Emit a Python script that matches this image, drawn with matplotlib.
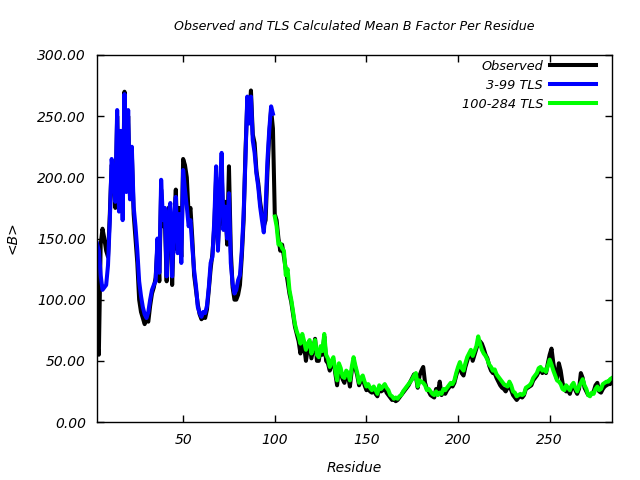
import matplotlib
matplotlib.use("Agg")
import matplotlib.pyplot as plt
import numpy as np

title = "Observed and TLS Calculated Mean B Factor Per Residue"
xlabel = "Residue"
ylabel = "<B>"
legend_labels = ["Observed", "3-99 TLS", "100-284 TLS"]

obs_start = 3
observed = [
    65, 55, 145, 158, 150, 140, 135, 170, 210, 205,            # 3-12
    175, 250, 180, 230, 175, 270, 195, 250, 185, 220,          # 13-22
    170, 150, 130, 100, 90, 85, 80, 84, 82, 95,                # 23-32
    105, 110, 118, 145, 115, 190, 160, 168, 115, 175,          # 33-42
    170, 112, 160, 190, 140, 175, 135, 215, 210, 200,          # 43-52
    170, 175, 150, 120, 108, 96, 88, 84, 86, 85,               # 53-62
    92, 108, 125, 138, 160, 200, 145, 175, 205, 160,           # 63-72
    180, 145, 209, 140, 110, 100, 100, 104, 112, 135,          # 73-82
    165, 220, 262, 250, 271, 235, 228, 205, 195, 180,          # 83-92
    170, 160, 165, 205, 235, 255, 240, 170,                    # 93-100
    165, 150, 140, 145, 135, 125, 115, 105, 98, 88,            # 101-110
    78, 72, 66, 56, 68, 62, 50, 60, 65, 52,                    # 111-120
    60, 68, 50, 50, 60, 55, 70, 50, 48, 42,                    # 121-130
    48, 50, 40, 30, 45, 40, 35, 32, 40, 38,                    # 131-140
    29, 42, 50, 44, 38, 30, 34, 36, 30, 26,                    # 141-150
    28, 25, 24, 27, 23, 21, 28, 25, 26, 28,                    # 151-160
    24, 22, 20, 18, 19, 17, 18, 20, 22, 24,                    # 161-170
    26, 28, 30, 33, 36, 39, 37, 28, 38, 42,                    # 171-180
    45, 32, 27, 25, 22, 21, 20, 27, 24, 33,                    # 181-190
    22, 25, 23, 26, 28, 30, 29, 32, 38, 43,                    # 191-200
    46, 40, 38, 45, 50, 55, 57, 50, 55, 60,                    # 201-210
    65, 66, 64, 60, 55, 52, 46, 42, 40, 40,                    # 211-220
    36, 33, 30, 28, 27, 25, 28, 30, 26, 22,                    # 221-230
    20, 18, 20, 22, 20, 22, 27, 28, 29, 30,                    # 231-240
    34, 36, 38, 41, 44, 40, 42, 40, 48, 55,                    # 241-250
    60, 48, 40, 35, 48, 42, 32, 27, 25, 26,                    # 251-260
    23, 28, 30, 26, 23, 27, 40, 36, 28, 25,                    # 261-270
    22, 22, 23, 25, 30, 32, 25, 24, 27, 29,                    # 271-280
    30, 31, 31, 33,                                            # 281-284
]

tls1_start = 3
tls1 = [
    146, 140, 120, 108, 110, 112, 128, 165, 215, 200,          # 3-12
    180, 255, 172, 238, 165, 268, 188, 255, 182, 225,          # 13-22
    176, 160, 140, 115, 103, 94, 88, 85, 90, 100,              # 23-32
    108, 112, 115, 150, 122, 198, 165, 175, 119, 170,          # 33-42
    179, 119, 165, 184, 138, 170, 130, 206, 190, 176,          # 43-52
    160, 165, 143, 124, 111, 94, 89, 86, 90, 89,               # 53-62
    95, 110, 130, 135, 165, 209, 140, 184, 220, 157,           # 63-72
    176, 150, 187, 130, 113, 105, 108, 116, 120, 140,          # 73-82
    170, 215, 266, 244, 266, 230, 220, 203, 192, 176,          # 83-92
    165, 155, 175, 214, 239, 258, 252,                         # 93-99
]

tls2_start = 100
tls2 = [
    168, 160, 145, 146, 142, 140, 120, 125, 108, 100,          # 100-109
    90, 80, 74, 70, 64, 72, 66, 59, 64, 67,                    # 110-119
    56, 62, 67, 55, 53, 62, 58, 72, 55, 52,                    # 120-129
    45, 50, 53, 42, 34, 48, 44, 37, 36, 42,                    # 130-139
    40, 34, 45, 53, 46, 40, 32, 36, 38, 33,                    # 140-149
    29, 31, 28, 26, 29, 26, 23, 30, 27, 29,                    # 150-159
    31, 28, 26, 22, 21, 19, 20, 19, 21, 22,                    # 160-169
    25, 27, 29, 31, 33, 35, 38, 40, 29, 34,                    # 170-179
    33, 32, 30, 26, 27, 25, 23, 22, 25, 22,                    # 180-189
    24, 23, 27, 26, 28, 30, 32, 31, 34, 40,                    # 190-199
    45, 49, 44, 42, 48, 53, 56, 59, 54, 58,                    # 200-209
    62, 70, 64, 59, 56, 54, 51, 47, 45, 42,                    # 210-219
    43, 39, 37, 35, 33, 31, 30, 29, 33, 30,                    # 220-229
    25, 24, 21, 22, 23, 22, 23, 28, 29, 30,                    # 230-239
    32, 36, 38, 40, 44, 45, 42, 43, 41, 46,                    # 240-249
    51, 47, 42, 38, 34, 33, 31, 27, 26, 30,                    # 250-259
    28, 26, 30, 32, 28, 25, 29, 32, 35, 30,                    # 260-269
    27, 22, 21, 24, 23, 27, 29, 26, 27, 31,                    # 270-279
    32, 33, 33, 35, 36,                                        # 280-284
]

x_ticks = [50, 100, 150, 200, 250]
y_ticks = [0, 50, 100, 150, 200, 250, 300]

x_obs = np.arange(obs_start, obs_start + len(observed))
x_t1 = np.arange(tls1_start, tls1_start + len(tls1))
x_t2 = np.arange(tls2_start, tls2_start + len(tls2))

plt.rcParams['font.family'] = ['DejaVu Sans']
font = dict(style='italic', size=10)

fig = plt.figure(figsize=(6.4, 4.8), dpi=100)
ax = fig.add_axes([97/640, 1-422/480, (612-97)/640, (422-55)/480])

lw = 2.9
ax.plot(x_obs, observed, color='black', lw=lw, label=legend_labels[0])
ax.plot(x_t1, tls1, color='#0000ff', lw=lw, label=legend_labels[1])
ax.plot(x_t2, tls2, color='#00ff00', lw=lw, label=legend_labels[2])

ax.set_xlim(3, 284)
ax.set_ylim(0, 300)
ax.set_xticks(x_ticks)
ax.set_yticks(y_ticks)
ax.set_yticklabels([f"{v:.2f}" for v in y_ticks], **font)
ax.set_xticklabels([str(v) for v in x_ticks], **font)
ax.tick_params(direction='in', top=True, right=True, length=5, width=1, pad=8)
for s in ax.spines.values():
    s.set_linewidth(1)

ax.set_xlabel(xlabel, labelpad=10, **font)
fig.text(13/640, 1-238/480, ylabel, rotation=90, ha='center', va='center', **font)
fig.text(354/640, 1-27/480, title, ha='center', va='center', style='italic', size=9.1)

leg = ax.legend(loc='upper right', frameon=False, markerfirst=False,
                bbox_to_anchor=(596/640, 1-60/480), bbox_transform=fig.transFigure,
                borderaxespad=0, borderpad=0,
                handlelength=3.6, handletextpad=0.5, labelspacing=0.45,
                prop=dict(style='italic', size=9.3))
for t in leg.get_texts():
    t.set_ha('right')
leg._legend_box.align = 'right'

fig.savefig("out.png", dpi=100)
